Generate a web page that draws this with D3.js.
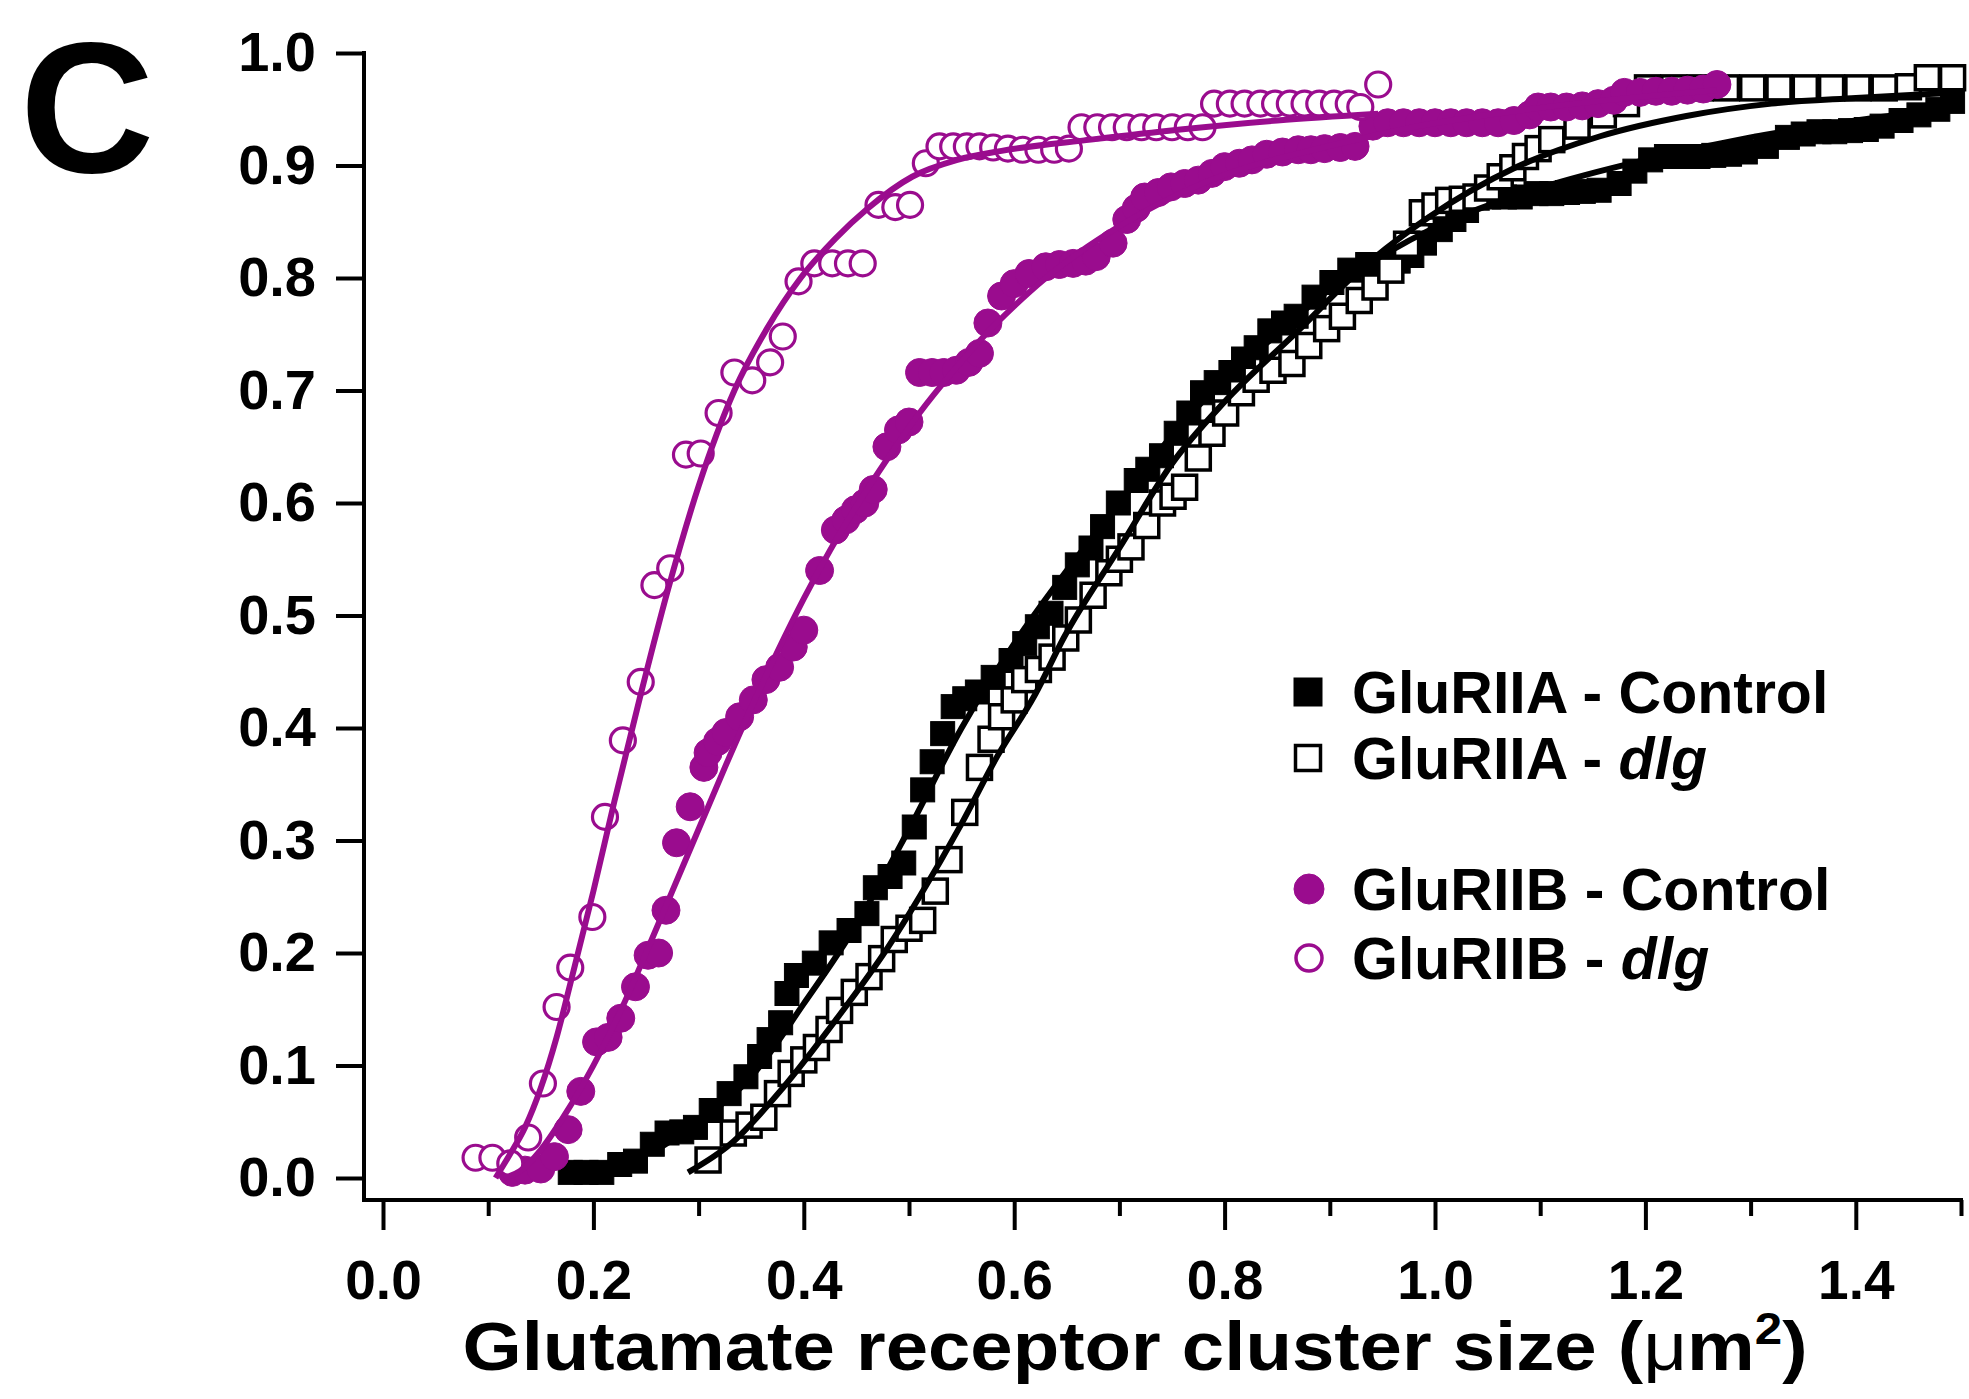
<!DOCTYPE html>
<html>
<head>
<meta charset="utf-8">
<script src="https://cdn.jsdelivr.net/npm/d3@7"></script>
<style>
  body { margin: 0; background: #fff; }
  text { font-family: "Liberation Sans", Arial, Helvetica, sans-serif; font-weight: bold; }
</style>
</head>
<body>
<div id="chart"></div>
<script>
  // ---- data: [cluster size (um2), cumulative fraction] ----
  var gluA_control = [
    [.178,.005],[.193,.005],[.208,.005],[.225,.012],[.240,.015],[.256,.030],[.270,.040],[.284,.041],[.297,.045],
    [.312,.060],[.329,.075],[.345,.090],[.358,.108],[.367,.123],[.378,.138],[.384,.164],[.393,.180],[.410,.191],
    [.426,.209],[.443,.220],[.460,.235],[.468,.258],[.482,.268],[.495,.280],[.505,.312],[.513,.345],[.522,.370],
    [.532,.395],[.542,.419],[.553,.426],[.565,.432],[.580,.445],[.597,.460],[.610,.475],[.622,.490],[.635,.502],
    [.648,.525],[.660,.545],[.673,.560],[.684,.579],[.699,.600],[.716,.620],[.727,.630],[.740,.642],[.754,.662],
    [.766,.680],[.779,.698],[.792,.707],[.806,.716],[.818,.728],[.830,.738],[.843,.753],[.856,.760],[.868,.766],
    [.885,.783],[.902,.796],[.919,.807],[.936,.812],[.952,.812],[.965,.815],[.978,.820],[.990,.831],[1.005,.843],
    [1.018,.852],[1.030,.860],[1.051,.872],[1.066,.872],[1.081,.872],[1.096,.875],[1.111,.875],[1.126,.876],
    [1.141,.877],[1.156,.878],[1.175,.884],[1.190,.895],[1.205,.905],[1.220,.908],[1.235,.908],[1.250,.908],
    [1.265,.909],[1.280,.910],[1.295,.912],[1.315,.917],[1.335,.925],[1.350,.928],[1.365,.930],[1.380,.930],
    [1.395,.931],[1.410,.932],[1.425,.935],[1.443,.940],[1.460,.945],[1.478,.950],[1.492,.957]
  ];
  var gluA_dlg = [
    [.309,.016],[.333,.040],[.348,.047],[.362,.054],[.375,.075],[.388,.093],[.400,.105],[.412,.116],[.424,.132],
    [.434,.149],[.448,.165],[.462,.179],[.474,.195],[.486,.212],[.500,.222],[.513,.229],[.525,.255],[.538,.283],
    [.553,.325],[.567,.365],[.578,.390],[.588,.410],[.600,.425],[.610,.443],[.623,.452],[.636,.463],[.649,.480],
    [.661,.496],[.675,.518],[.690,.538],[.700,.550],[.711,.561],[.726,.580],[.741,.600],[.751,.606],[.762,.614],
    [.775,.640],[.788,.662],[.801,.680],[.816,.698],[.830,.710],[.846,.718],[.864,.724],[.880,.740],[.897,.755],
    [.912,.766],[.928,.780],[.943,.792],[.958,.807],[.973,.830],[.988,.858],[1.000,.864],[1.013,.869],[1.026,.870],
    [1.039,.872],[1.050,.880],[1.062,.890],[1.074,.898],[1.086,.908],[1.098,.915],[1.111,.923],[1.135,.935],
    [1.160,.945],[1.182,.955],[1.202,.969],[1.227,.969],[1.252,.969],[1.277,.969],[1.302,.969],[1.327,.969],
    [1.352,.969],[1.377,.969],[1.402,.969],[1.427,.969],[1.450,.970],[1.468,.978],[1.492,.978]
  ];
  var gluB_control = [
    [.123,.005],[.135,.007],[.150,.008],[.163,.019],[.176,.043],[.188,.077],[.203,.121],[.214,.125],[.226,.142],
    [.240,.170],[.252,.198],[.262,.200],[.269,.238],[.279,.298],[.292,.330],[.305,.365],[.309,.378],[.318,.388],
    [.326,.396],[.339,.410],[.352,.425],[.364,.443],[.377,.454],[.390,.472],[.400,.487],[.415,.540],[.430,.576],
    [.440,.585],[.449,.594],[.458,.600],[.466,.612],[.479,.650],[.490,.665],[.500,.672],[.510,.716],[.522,.716],
    [.533,.716],[.545,.718],[.557,.725],[.567,.733],[.575,.760],[.588,.784],[.600,.795],[.614,.804],[.630,.810],
    [.643,.812],[.656,.813],[.668,.815],[.678,.819],[.694,.831],[.707,.852],[.716,.862],[.724,.872],[.737,.876],
    [.749,.881],[.762,.884],[.775,.887],[.788,.893],[.800,.899],[.814,.902],[.826,.905],[.840,.910],[.855,.912],
    [.870,.914],[.882,.914],[.895,.915],[.910,.916],[.924,.917],[.941,.935],[.955,.938],[.970,.938],[.985,.938],
    [1.000,.938],[1.015,.938],[1.030,.938],[1.045,.938],[1.060,.938],[1.075,.940],[1.090,.945],[1.098,.952],
    [1.110,.952],[1.125,.952],[1.140,.953],[1.155,.955],[1.170,.958],[1.180,.965],[1.195,.965],[1.210,.966],
    [1.225,.966],[1.240,.967],[1.255,.968],[1.268,.972]
  ];
  var gluB_dlg = [
    [.088,.018],[.104,.018],[.121,.013],[.138,.036],[.152,.084],[.165,.152],[.178,.187],[.199,.232],[.211,.321],
    [.228,.389],[.245,.441],[.258,.527],[.273,.542],[.288,.643],[.302,.644],[.319,.680],[.334,.716],[.351,.709],
    [.368,.725],[.380,.748],[.395,.797],[.410,.813],[.427,.813],[.442,.813],[.456,.813],[.471,.865],[.487,.863],
    [.501,.865],[.516,.902],[.529,.917],[.542,.917],[.555,.917],[.567,.917],[.580,.916],[.594,.915],[.608,.914],
    [.623,.914],[.638,.914],[.652,.915],[.664,.934],[.679,.934],[.693,.934],[.707,.934],[.721,.934],[.735,.934],
    [.750,.934],[.765,.934],[.779,.934],[.790,.955],[.805,.955],[.819,.955],[.834,.955],[.848,.955],[.862,.955],
    [.876,.955],[.890,.955],[.904,.955],[.918,.955],[.929,.952],[.946,.972]
  ];

  // fitted curves
  var fitA_control = [
    [.26,.025],[.30,.05],[.35,.09],[.40,.155],[.45,.225],[.50,.31],[.55,.40],[.60,.475],[.65,.54],[.70,.60],
    [.75,.66],[.80,.71],[.85,.75],[.90,.79],[.95,.82],[1.00,.845],[1.10,.88],[1.20,.905],[1.30,.925],
    [1.40,.94],[1.50,.952]
  ];
  var fitA_dlg = [
    [.29,.005],[.33,.03],[.38,.08],[.43,.14],[.48,.205],[.51,.25],[.55,.315],[.584,.375],[.62,.43],[.647,.48],
    [.70,.56],[.75,.635],[.80,.69],[.872,.755],[.925,.804],[.994,.854],[1.076,.898],[1.157,.926],[1.239,.944],
    [1.32,.955],[1.40,.96],[1.50,.965]
  ];
  var fitB_control = [
    [.115,0],[.13,.006],[.15,.025],[.17,.052],[.19,.083],[.21,.118],[.23,.157],[.25,.20],[.275,.255],[.30,.31],
    [.325,.365],[.35,.418],[.375,.468],[.40,.515],[.425,.558],[.45,.597],[.48,.64],[.51,.68],[.54,.715],
    [.571,.748],[.60,.775],[.63,.80],[.67,.828],[.707,.85],[.74,.867],[.779,.884],[.82,.898],[.872,.911],
    [.93,.924],[.984,.935],[1.05,.945],[1.153,.957],[1.268,.967]
  ];
  var fitB_dlg = [
    [.107,0],[.12,.02],[.135,.045],[.15,.08],[.165,.125],[.18,.18],[.20,.255],[.22,.335],[.245,.43],[.27,.52],
    [.30,.615],[.334,.70],[.365,.755],[.397,.80],[.43,.835],[.461,.862],[.503,.89],[.546,.905],[.588,.913],
    [.673,.923],[.758,.932],[.85,.94],[.946,.946]
  ];

  var xMajorTicks = [0, 0.2, 0.4, 0.6, 0.8, 1.0, 1.2, 1.4];
  var xMinorTicks = [0.1, 0.3, 0.5, 0.7, 0.9, 1.1, 1.3, 1.5];
  var yTicks = [0, 0.1, 0.2, 0.3, 0.4, 0.5, 0.6, 0.7, 0.8, 0.9, 1.0];

  var legendItems = [
    {name: "GluRIIA - ", tail: "Control", italic: false, shape: "square", filled: true},
    {name: "GluRIIA - ", tail: "dlg",     italic: true,  shape: "square", filled: false},
    {name: "GluRIIB - ", tail: "Control", italic: false, shape: "circle", filled: true},
    {name: "GluRIIB - ", tail: "dlg",     italic: true,  shape: "circle", filled: false}
  ];

  var magenta = "#9a0c8e";

  // ---- layout ----
  var width = 1969, height = 1399;
  var yAxisX = 364, xAxisY = 1200;

  var svg = d3.select("#chart").append("svg")
    .attr("width", width)
    .attr("height", height)
    .style("background", "#fff");

  var x = d3.scaleLinear().domain([0, 1.5]).range([383, 1961]);
  var y = d3.scaleLinear().domain([0, 1]).range([1178, 53]);

  // panel letter
  svg.append("text")
    .attr("x", 20)
    .attr("y", 172)
    .style("font-size", "186px")
    .text("C");

  // axis lines
  svg.append("line")
    .attr("x1", yAxisX).attr("x2", yAxisX)
    .attr("y1", y(1) - 2).attr("y2", xAxisY + 2)
    .attr("stroke", "#000").attr("stroke-width", 4);
  svg.append("line")
    .attr("x1", yAxisX - 2).attr("x2", x(1.5) + 2)
    .attr("y1", xAxisY).attr("y2", xAxisY)
    .attr("stroke", "#000").attr("stroke-width", 4);

  // y axis
  var yAxis = svg.append("g")
    .attr("transform", "translate(" + yAxisX + ",0)")
    .call(d3.axisLeft(y).tickValues(yTicks).tickSize(28).tickPadding(20).tickFormat(d3.format(".1f")));
  yAxis.select(".domain").remove();
  yAxis.selectAll(".tick line").attr("stroke-width", 4);
  yAxis.selectAll(".tick text").style("font-size", "56px").attr("fill", "#000");

  // x axis, major ticks with labels
  var xAxis = svg.append("g")
    .attr("transform", "translate(0," + xAxisY + ")")
    .call(d3.axisBottom(x).tickValues(xMajorTicks).tickSize(30).tickPadding(30).tickFormat(d3.format(".1f")));
  xAxis.select(".domain").remove();
  xAxis.selectAll(".tick line").attr("stroke-width", 4);
  xAxis.selectAll(".tick text").style("font-size", "55px").attr("fill", "#000");

  // x axis, minor ticks
  var xMinor = svg.append("g")
    .attr("transform", "translate(0," + xAxisY + ")")
    .call(d3.axisBottom(x).tickValues(xMinorTicks).tickSize(16).tickFormat(""));
  xMinor.select(".domain").remove();
  xMinor.selectAll(".tick line").attr("stroke-width", 4);

  // x axis title
  var title = svg.append("text")
    .attr("text-anchor", "middle")
    .attr("transform", "translate(1135,1370) scale(1.12,1)")
    .style("font-size", "68px");
  title.append("tspan").text("Glutamate receptor cluster size (");
  title.append("tspan").style("font-weight", "normal").text("\u03bc");
  title.append("tspan").text("m");
  title.append("tspan").attr("dy", -26).style("font-size", "44px").text("2");
  title.append("tspan").attr("dy", 26).text(")");

  // ---- markers ----
  var sq = 24;

  function addSquares(data, filled) {
    svg.append("g").selectAll("rect")
      .data(data)
      .enter().append("rect")
        .attr("x", function (d) { return x(d[0]) - sq / 2; })
        .attr("y", function (d) { return y(d[1]) - sq / 2; })
        .attr("width", sq)
        .attr("height", sq)
        .attr("fill", filled ? "#000" : "#fff")
        .attr("stroke", "#000")
        .attr("stroke-width", filled ? 1 : 3.5);
  }

  function addCircles(data, filled) {
    svg.append("g").selectAll("circle")
      .data(data)
      .enter().append("circle")
        .attr("cx", function (d) { return x(d[0]); })
        .attr("cy", function (d) { return y(d[1]); })
        .attr("r", filled ? 14 : 12.5)
        .attr("fill", filled ? magenta : "#fff")
        .attr("stroke", magenta)
        .attr("stroke-width", filled ? 1 : 3.2);
  }

  addSquares(gluA_control, true);
  addSquares(gluA_dlg, false);
  addCircles(gluB_control, true);
  addCircles(gluB_dlg, false);

  // ---- fitted lines ----
  var line = d3.line()
    .x(function (d) { return x(d[0]); })
    .y(function (d) { return y(d[1]); })
    .curve(d3.curveMonotoneX);

  function addFit(data, color) {
    svg.append("path")
      .datum(data)
      .attr("d", line)
      .attr("fill", "none")
      .attr("stroke", color)
      .attr("stroke-width", 6);
  }

  addFit(fitA_control, "#000");
  addFit(fitA_dlg, "#000");
  addFit(fitB_control, magenta);
  addFit(fitB_dlg, magenta);

  // ---- legend ----
  var legendY = [692, 758, 889, 958];
  var legend = svg.append("g");

  legendItems.forEach(function (item, i) {
    var cy = legendY[i];
    var color = item.shape === "square" ? "#000" : magenta;
    if (item.shape === "square") {
      var s = item.filled ? 28 : 25;
      legend.append("rect")
        .attr("x", 1308 - s / 2).attr("y", cy - s / 2)
        .attr("width", s).attr("height", s)
        .attr("fill", item.filled ? color : "#fff")
        .attr("stroke", color)
        .attr("stroke-width", item.filled ? 1 : 3.5);
    } else {
      legend.append("circle")
        .attr("cx", 1309).attr("cy", cy)
        .attr("r", item.filled ? 15 : 13)
        .attr("fill", item.filled ? color : "#fff")
        .attr("stroke", color)
        .attr("stroke-width", item.filled ? 1 : 3.5);
    }
    var t = legend.append("text")
      .attr("x", 1352)
      .attr("y", cy + 21)
      .style("font-size", "59px");
    t.append("tspan").text(item.name);
    t.append("tspan").style("font-style", item.italic ? "italic" : "normal").text(item.tail);
  });
</script>
</body>
</html>
